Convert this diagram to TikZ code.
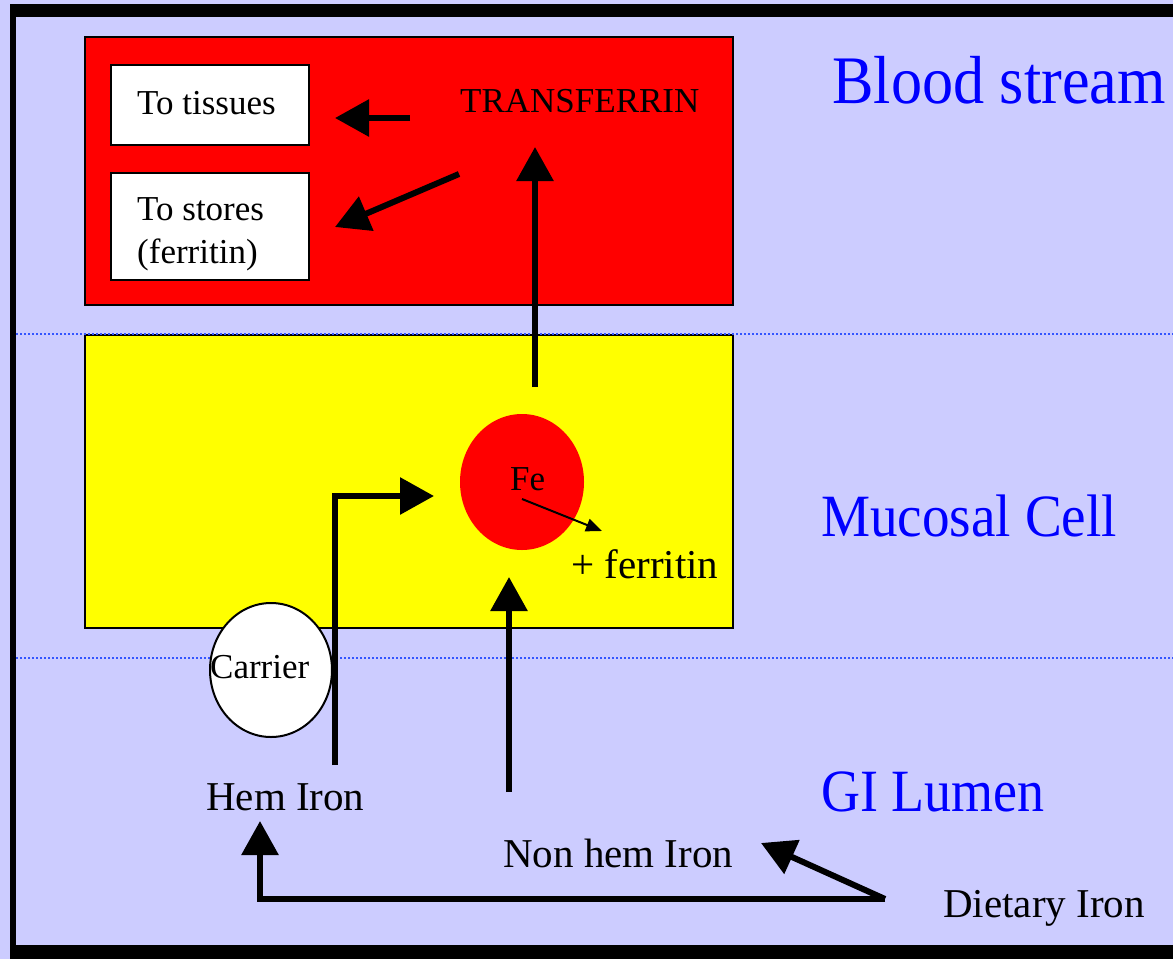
\documentclass[tikz,border=0pt]{standalone}
\usepackage{fontspec}
\usepackage{graphicx}
\setmainfont{Liberation Serif}
\usetikzlibrary{arrows.meta,shapes.geometric}
\definecolor{lav}{HTML}{CCCCFF}
\definecolor{myred}{HTML}{FF0000}
\definecolor{myyel}{HTML}{FFFF00}
\definecolor{myblue}{HTML}{0000FF}
\definecolor{dotblue}{HTML}{3355FF}
\tikzset{
  bigarrow/.style={line width=6pt, -{Triangle[length=34pt,width=36pt]}},
  thinarrow/.style={line width=2pt, -{Triangle[length=16pt,width=13pt]}},
  bodytxt/.style={inner sep=0pt, anchor=base west, font=\fontsize{41}{48}\selectfont},
  boxtxt/.style={inner sep=0pt, anchor=base west, font=\fontsize{35}{43}\selectfont},
  regionlbl/.style={inner sep=0pt, anchor=base west, text=myblue},
  whitebox/.style={draw=black, line width=2pt, fill=white, inner sep=0pt, anchor=north west},
  sepline/.style={dotblue, line width=1.5pt, dash pattern=on 1.5pt off 2.5pt},
}
\begin{document}
\begin{tikzpicture}[x=1pt,y=-1pt]
\fill[lav] (0,0) rectangle (1173,959);
\useasboundingbox (0,0) rectangle (1173,959);
% frame
\fill[black] (10,4) rectangle (1173,17);
\fill[black] (10,4) rectangle (16,959);
\fill[black] (10,945) rectangle (1173,959);
% blood stream box
\draw[fill=myred, line width=2pt] (85,37) rectangle (733,305);
\node[whitebox, minimum width=198pt, minimum height=80pt] (tissues) at (110,64) {};
\node[whitebox, minimum width=198pt, minimum height=107pt] (stores) at (110,172) {};
\node[boxtxt] (ttis) at (137,114.5) {To tissues};
\node[boxtxt] (tsto1) at (137,220) {To stores};
\node[boxtxt] (tsto2) at (137,263) {(ferritin)};
\node[boxtxt] (transf) at (460,112) {TRANSFERRIN};
% mucosal cell box
\draw[fill=myyel, line width=2pt] (85,335) rectangle (733,628);
% separators
\draw[sepline] (16,334) -- (1173,334);
\draw[sepline] (16,658) -- (1173,658);
% Fe and carrier
\node[ellipse, fill=myred, inner sep=0pt, minimum width=124pt, minimum height=136pt] (fe) at (522,482) {};
\node[boxtxt] (fetxt) at (510,490) {Fe};
\node[ellipse, draw=black, line width=2pt, fill=white, inner sep=0pt, minimum width=122pt, minimum height=134pt] (carrier) at (271,670) {};
\node[boxtxt] (carriertxt) at (210,678) {Carrier};
% body texts
\node[bodytxt] (plusfer) at (571,578) {+ ferritin};
\node[bodytxt] (hem) at (206,810) {Hem Iron};
\node[bodytxt] (nonhem) at (503,867) {Non hem Iron};
\node[bodytxt] (diet) at (943,917) {Dietary Iron};
% region labels
\node[regionlbl, font=\fontsize{68}{80}\selectfont] (lblblood) at (832,103) {\scalebox{0.915}[1]{Blood stream}};
\node[regionlbl, font=\fontsize{60}{72}\selectfont] (lblmuc) at (821,536) {\scalebox{0.92}[1]{Mucosal Cell}};
\node[regionlbl, font=\fontsize{60}{72}\selectfont] (lblgi) at (821,811) {\scalebox{0.9}[1]{GI Lumen}};
% arrow coordinates
\coordinate (upS) at (535,387);
\coordinate (upT) at (535,147);
\coordinate (tisS) at (410,118);
\coordinate (tisT) at (335,118);
\coordinate (stoS) at (459,174);
\coordinate (stoT) at (335,227);
\coordinate (hemS) at (335,765);
\coordinate (hemT) at (434,496);
\coordinate (nhS) at (509,792);
\coordinate (nhT) at (509,577);
\coordinate (dS) at (885,899);
\coordinate (dHemT) at (260,821);
\coordinate (dNhT) at (761,843);
\coordinate (feS) at (522,499);
\coordinate (feT) at (602,531);
% arrows
\draw[bigarrow] (upS) -- (upT);
\draw[bigarrow] (tisS) -- (tisT);
\draw[bigarrow] (stoS) -- (stoT);
\draw[bigarrow] (hemS) |- (hemT);
\draw[bigarrow] (nhS) -- (nhT);
\draw[bigarrow] (dS) -| (dHemT);
\draw[bigarrow] (dS) -- (dNhT);
\draw[thinarrow] (feS) -- (feT);
\end{tikzpicture}
\end{document}
